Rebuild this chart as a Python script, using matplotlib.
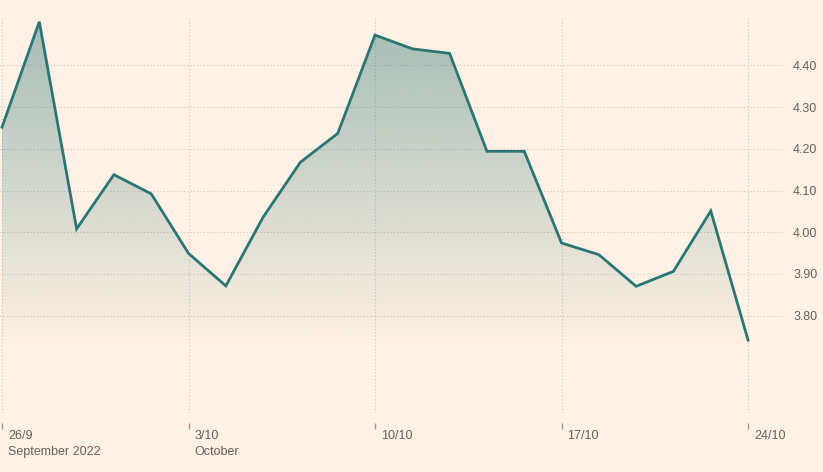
import matplotlib
matplotlib.use("Agg")
import matplotlib.pyplot as plt
import matplotlib.transforms as mtransforms
import numpy as np

dates = ["26/9", "27/9", "28/9", "29/9", "30/9",
         "3/10", "4/10", "5/10", "6/10", "7/10",
         "10/10", "11/10", "12/10", "13/10", "14/10",
         "17/10", "18/10", "19/10", "20/10", "21/10",
         "24/10"]
values = [4.252, 4.505, 4.008, 4.138, 4.092,
          3.949, 3.871, 4.036, 4.168, 4.237,
          4.473, 4.440, 4.429, 4.194, 4.194,
          3.974, 3.946, 3.870, 3.906, 4.051,
          3.741]
tick_labels = ["26/9\nSeptember 2022", "3/10\nOctober", "10/10", "17/10", "24/10"]
tick_idx = [0, 5, 10, 15, 20]
yticks = [3.80, 3.90, 4.00, 4.10, 4.20, 4.30, 4.40]

BG = "#fff1e5"
LINE = "#2b7675"
TXT = "#66605c"
GRID = "#cfc5bb"

plt.rcParams['font.family'] = ['Liberation Sans', 'DejaVu Sans']

fig = plt.figure(figsize=(8.23, 4.72), dpi=100, facecolor=BG)
ax = fig.add_axes([0.0, 1 - 413 / 472, 782 / 823, (413 - 18) / 472])
ax.set_facecolor(BG)

x = np.arange(len(values))
y = np.array(values)

ymin, ymax = 3.566, 4.514
ax.set_xlim(-0.054, 20.91)
ax.set_ylim(ymin, ymax)

# gradient fill under the line
poly = ax.fill_between(x, y, ymin, color="none", lw=0)
path = poly.get_paths()[0]
n = 400
yy = np.linspace(ymax, ymin, n)
fade_end = 3.72
alpha = np.clip((yy - fade_end) / (4.505 - fade_end), 0, None) * 0.42
rgba = np.zeros((n, 1, 4))
rgba[..., 0] = 43 / 255
rgba[..., 1] = 118 / 255
rgba[..., 2] = 117 / 255
rgba[..., 3] = alpha[:, None]
img = ax.imshow(rgba, extent=[x[0], x[-1], ymin, ymax], aspect="auto",
                origin="upper", zorder=1, interpolation="bilinear")
img.set_clip_path(path, transform=ax.transData)

ax.plot(x, y, color=LINE, lw=2, zorder=3, solid_joinstyle="miter")

for s in ax.spines.values():
    s.set_visible(False)

ax.set_yticks(yticks)
ax.set_yticklabels([f"{v:.2f}" for v in yticks])
ax.yaxis.tick_right()
ax.tick_params(axis="y", length=0, pad=8, labelsize=9, labelcolor=TXT)

ax.set_xticks(tick_idx)
ax.set_xticklabels(tick_labels)
ax.spines["bottom"].set_position(("outward", 7.2))
ax.tick_params(axis="x", length=4.3, width=1, color="#a09890", direction="out",
               pad=1, labelsize=9, labelcolor=TXT)
offset = mtransforms.ScaledTranslation(6 / 100, 0, fig.dpi_scale_trans)
for lab in ax.get_xticklabels():
    lab.set_horizontalalignment("left")
    lab.set_multialignment("left")
    lab.set_linespacing(1.45)
    lab.set_transform(lab.get_transform() + offset)

ax.grid(True, axis="both", color=GRID, linestyle=(0, (1, 2)), lw=0.8, zorder=0)
ax.set_axisbelow(True)

fig.savefig("out.png", dpi=100, facecolor=BG)
